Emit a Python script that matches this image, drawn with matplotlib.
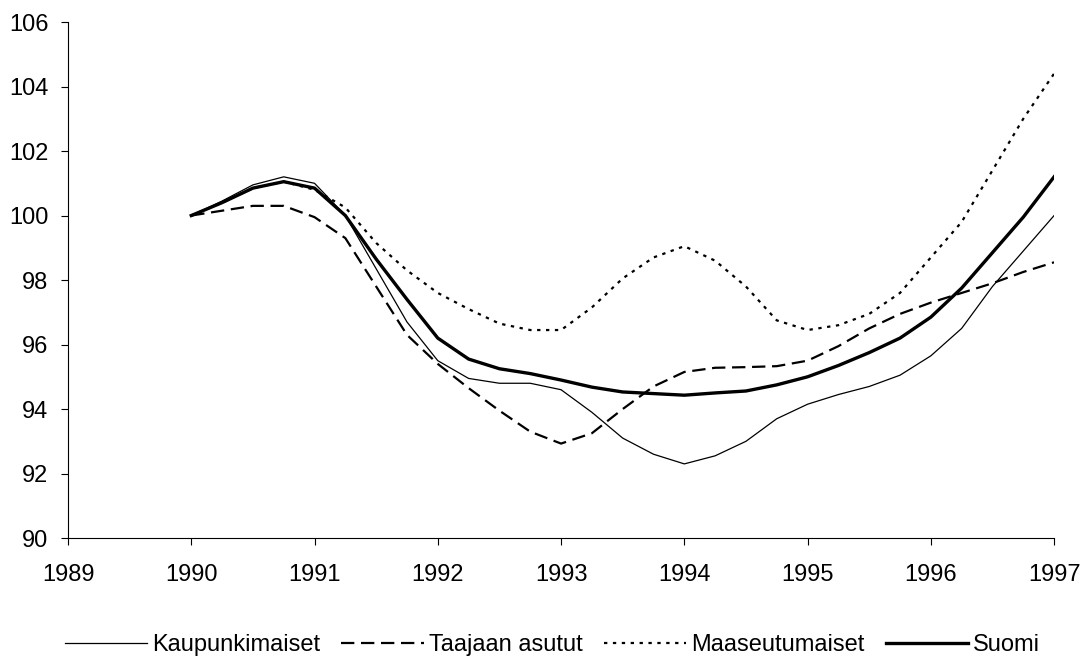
import matplotlib
matplotlib.use("Agg")
import matplotlib.pyplot as plt
import numpy as np

plt.rcParams['font.family'] = ['Liberation Sans', 'DejaVu Sans']

quarters = [1990 + 0.25 * i for i in range(29)]

kaupunkimaiset = [100.0, 100.45, 100.95, 101.2, 101.0, 100.0, 98.35, 96.7, 95.5,
                  94.95, 94.8, 94.8, 94.6, 93.9, 93.1, 92.6, 92.3, 92.55, 93.0,
                  93.7, 94.15, 94.45, 94.7, 95.05, 95.65, 96.5, 97.8, 98.9, 100.0]
taajaan_asutut = [100.0, 100.15, 100.3, 100.3, 99.95, 99.3, 97.8, 96.3, 95.4,
                  94.65, 93.95, 93.3, 92.93, 93.25, 94.0, 94.7, 95.15, 95.28, 95.3,
                  95.33, 95.5, 95.95, 96.5, 96.95, 97.3, 97.6, 97.9, 98.25, 98.55]
maaseutumaiset = [100.0, 100.4, 100.85, 101.05, 100.8, 100.25, 99.15, 98.3, 97.6,
                  97.1, 96.65, 96.45, 96.45, 97.15, 98.05, 98.7, 99.05, 98.6, 97.8,
                  96.75, 96.45, 96.6, 96.95, 97.6, 98.7, 99.8, 101.4, 103.0, 104.4]
suomi = [100.0, 100.4, 100.85, 101.05, 100.85, 100.0, 98.65, 97.4, 96.2,
         95.55, 95.25, 95.1, 94.9, 94.68, 94.53, 94.48, 94.43, 94.5, 94.56,
         94.75, 95.0, 95.35, 95.75, 96.2, 96.85, 97.75, 98.85, 99.95, 101.2]

labels = ['Kaupunkimaiset', 'Taajaan asutut', 'Maaseutumaiset', 'Suomi']
x_ticks = list(range(1989, 1998))
y_ticks = list(range(90, 107, 2))

fig = plt.figure(figsize=(10.83, 6.57), dpi=100)
ax = fig.add_axes([0.0628, 0.181, 0.9105, 0.7855])

ax.plot(quarters, kaupunkimaiset, color='black', lw=0.9, label=labels[0])
ax.plot(quarters, taajaan_asutut, color='black', lw=1.6, dashes=(6, 3), label=labels[1])
ax.plot(quarters, maaseutumaiset, color='black', lw=1.6, dashes=(1.5, 2.5), label=labels[2])
ax.plot(quarters, suomi, color='black', lw=2.4, label=labels[3])

ax.set_xlim(1989, 1997)
ax.set_ylim(90, 106)
ax.set_xticks(x_ticks)
ax.set_yticks(y_ticks)
ax.tick_params(labelsize=17, direction='out', length=5, width=0.8)
ax.tick_params(axis='x', pad=14)
ax.tick_params(axis='y', pad=9)
for s in ['top', 'right']:
    ax.spines[s].set_visible(False)
for s in ['left', 'bottom']:
    ax.spines[s].set_linewidth(0.8)

fig.legend(loc='center', bbox_to_anchor=(0.51, 0.018), ncol=4, frameon=False,
           fontsize=17, handlelength=3.5, handletextpad=0.2, columnspacing=0.9)

fig.savefig('out.png', dpi=100)
